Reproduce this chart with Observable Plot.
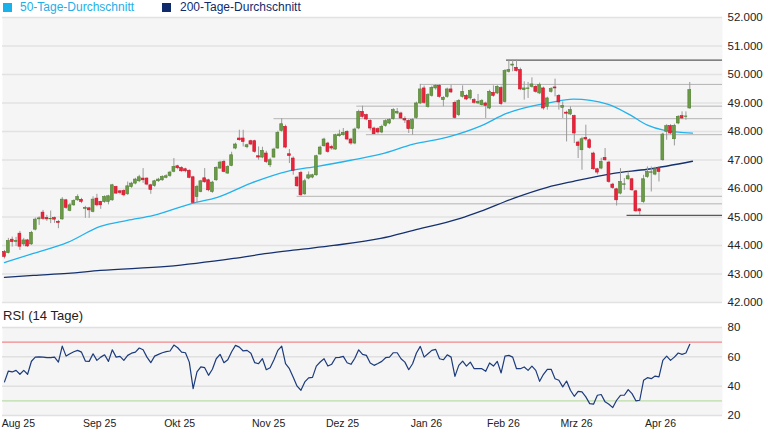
<!DOCTYPE html>
<html><head><meta charset="utf-8">
<script src="https://cdn.jsdelivr.net/npm/d3@7"></script>
<script src="https://cdn.jsdelivr.net/npm/@observablehq/plot@0.6"></script>
<style>
body{margin:0;background:#fff;font-family:'Liberation Sans',Arial,sans-serif;}
#wrap{position:relative;width:765px;height:430px;overflow:hidden;background:#fff;}
#main{position:absolute;left:0;top:0;}
#rsi{position:absolute;left:0;top:318px;}
.lg{position:absolute;top:0;font-size:12px;line-height:14px;white-space:nowrap;}
.sq{position:absolute;top:3px;width:9px;height:9px;}
#rsiTitle{position:absolute;left:3px;top:308px;font-size:13px;color:#222;line-height:16px;}
</style></head><body>
<div id="wrap">
  <div id="main"></div>
  <div id="rsi"></div>
  <div class="sq" style="left:3px;background:#1ab0ea"></div>
  <div class="lg" style="left:20px;color:#23aee6">50-Tage-Durchschnitt</div>
  <div class="sq" style="left:162px;background:#0f2b6b"></div>
  <div class="lg" style="left:180px;color:#0f2b6b">200-Tage-Durchschnitt</div>
  <div id="rsiTitle">RSI (14 Tage)</div>
</div>
<script>
const opens=[43768,43733,44204,44126,44415,44038,44179,44038,44555,44917,45153,44963,44917,44963,44829,44917,45585,45216,45409,45585,45603,45286,45304,45181,45645,45532,45525,45532,45585,46052,45901,45912,45796,46052,46172,46253,46348,46348,46112,46088,46253,46288,46376,46439,46587,46780,46720,46675,46622,46393,45701,45877,46358,46288,45877,46288,46699,46931,46524,46791,47402,47754,47754,47448,47659,47659,47132,47086,47227,46815,47086,47402,48021,48161,47202,47051,46383,46545,45796,46348,46383,46464,47191,47483,47578,47458,47367,47835,47870,47986,47719,47578,48105,48689,48573,48372,48105,48081,47965,48197,48281,48432,48633,48633,48432,48372,48081,48478,48984,49511,48865,49251,49511,49603,49100,49216,49476,49005,48573,49216,49251,49160,49100,48984,48924,48984,48808,49357,49335,49522,49040,50095,50313,50235,50154,49451,49494,49567,49567,49335,49511,48865,49392,49546,49251,48829,48661,48597,48538,47613,47342,47775,47694,47227,46675,46699,47072,46910,46137,45972,45821,46130,46323,46323,45901,45269,45525,46404,46552,46488,46720,46991,47986,48186,47729,48281,48538,48513,48808];
const highs=[43827,44249,44295,44284,44495,44249,44214,44495,44963,45005,45233,45058,45209,44998,44882,45680,45620,45480,45603,45778,45655,45374,45339,45708,45796,45550,45743,45761,46147,46077,45936,45954,46228,46218,46358,46464,46699,46376,46147,46288,46358,46446,46481,46604,47051,46815,46763,46710,46657,46429,46112,46288,46699,46323,46253,46763,46956,46991,46798,47272,47589,48045,48045,47553,47694,47694,47458,47448,47307,47061,47413,48010,48450,48221,47367,47107,46429,46604,46323,46580,46499,47167,47483,47764,47624,47518,47905,48045,48105,48028,47764,48116,48748,48889,48608,48415,48151,48133,48221,48415,48450,48801,48808,48678,48513,48415,48450,49030,49652,49592,49328,49592,49645,49645,49223,49522,49627,49065,49118,49603,49293,49469,49153,49300,49118,49030,49451,49603,49610,49592,50172,50506,50506,50506,50225,49743,49722,49884,49610,49698,49557,49205,49539,49838,49293,49040,48713,48865,48573,47659,47799,48221,47747,47272,46710,47061,47402,46956,46183,46007,46699,46348,46580,46358,45936,45304,46464,46755,46755,46745,46763,47940,48239,48239,48256,48555,48689,48689,49722];
const lows=[43529,43704,43943,43968,43827,43968,43933,44003,44513,44706,44882,44847,44766,44777,44590,44882,45269,45181,45374,45550,45469,44952,44952,45146,45357,45269,45480,45427,45550,45796,45778,45708,45761,46007,46130,46207,46183,46095,45796,46042,46218,46253,46341,46393,46552,46657,46569,46552,46341,45462,45469,45849,46183,45884,45831,46253,46675,46552,46499,46763,47360,47659,47458,47395,47501,47237,46991,47044,46875,46734,47061,47378,47975,47395,46875,46464,46042,45726,45761,46306,46341,46429,47167,47448,47237,47342,47342,47799,47835,47676,47518,47536,48063,48467,48379,48021,47888,47905,47922,48151,48239,48397,48590,48415,48281,47930,47870,48432,48942,48959,48819,49205,49451,49170,48865,49170,49328,48432,48520,49170,49082,49100,48959,48942,48889,48457,48766,49205,49293,48907,48995,50049,50095,50084,49434,49100,49160,49522,49346,49293,48748,48748,49346,49216,48748,48457,47634,48555,47578,47051,46640,47659,47378,46640,46481,46657,46956,46183,45972,45385,45778,45936,46288,45901,45163,45058,45480,46358,45877,46446,46228,46956,47694,47887,47494,48239,48415,48397,48784];
const closes=[43599,44154,44119,44161,43958,44179,43968,44443,44907,44952,44935,44917,44935,44907,44794,45610,45321,45409,45560,45701,45532,45321,45233,45610,45409,45409,45701,45726,46112,45821,45842,45761,46077,46172,46313,46393,46288,46137,45954,46253,46313,46404,46429,46559,46755,46710,46604,46604,46376,45497,46052,46253,46218,45936,46207,46720,46910,46580,46755,47167,47543,47694,47634,47518,47543,47283,47086,47318,46931,46991,47367,47951,48256,47437,47142,46615,46077,45761,46253,46464,46464,47132,47437,47719,47283,47402,47870,47894,47951,47719,47578,48070,48689,48513,48422,48105,47905,47965,48161,48362,48397,48748,48689,48457,48386,48081,48397,48984,49476,49005,49276,49532,49603,49216,49181,49476,49371,48478,49065,49392,49125,49416,49005,49040,49065,48900,49392,49251,49567,48959,50119,50154,50348,50119,49476,49511,49511,49652,49392,49627,48808,49160,49487,49511,49019,48900,48625,48748,47930,47494,47729,47719,47423,46675,46559,46931,46991,46228,46017,45585,46228,46147,46429,45936,45198,45198,46323,46580,46569,46675,46580,47894,48186,47930,48197,48513,48457,48527,49451];

const ma50Idx=[0,7.5,16.4,24.9,31.9,38.7,48.8,55.3,63.9,73.5,81.3,89.9,97.7,106.2,115.1,123.6,130.6,134.8,141,147.8,156.6,162.6,167,171.2,178.7];
const ma50Val=[43400,43722,44109,44671,44882,45058,45480,45691,46183,46604,46780,46991,47202,47554,47800,48186,48643,48819,48995,49135,48960,48573,48221,48046,47940];
const ma200Idx=[0,7.5,16.4,24.9,42.3,59.5,68.3,76.9,85.5,97.7,106.2,118.4,123.6,132.2,141,147.8,158.2,167,178.7];
const ma200Val=[42879,42949,43019,43125,43265,43546,43722,43863,44003,44249,44531,44952,45198,45655,46042,46253,46534,46675,46956];

const rsiVals=[42.9,50.3,49.7,50.8,48.1,50.8,48.1,57,59.8,60,
59.8,59.4,59.4,59.8,56.4,67.3,60.5,62.1,63.5,64.4,
63.2,57.1,56.9,62.1,57.6,59.8,61.4,56.9,64.8,59.8,
60.3,57.6,61.0,62.5,63.2,66.0,64.8,59.8,56.0,60.5,
61.7,62.8,63.5,64.0,68.0,66.2,63.2,62.8,56.4,38.3,
49.7,53.1,52.6,47.4,51.5,58.7,61.7,56.0,58.0,63.5,
67.8,66.6,64.0,64.4,62.5,56.0,55.3,58.7,51.2,52.6,
58.0,64.4,67.3,55.3,51.9,46.0,40.0,37.2,42.9,45.6,
46.0,53.7,56.5,58.7,53.7,55.0,59.4,59.6,60.3,56.0,
54.9,59.0,64.8,61.7,61.0,55.8,54.2,55.5,
56.9,59.4,59.8,62.8,62.8,58.7,56.4,51.2,55.3,62.6,
67.1,59.8,62.1,64.4,65.1,58.7,58.0,61.4,59.8,46.7,
54.2,57.1,53.7,56.4,51.9,51.9,51.9,50.1,55.8,53.7,
56.9,49.0,60.5,61.0,59.8,51.9,51.9,53.1,50.8,53.7,
50.8,43.3,48.1,51.5,51.5,45.1,44.0,39.5,43.5,37.2,
33.1,36.5,36.1,32.7,28.1,27.7,33.8,34.3,29.3,27.7,
25.4,30.4,33.8,33.8,37.7,34.9,30.0,30.4,44.0,45.8,
45.1,46.9,46.3,57.6,60.5,57.6,59.8,62.6,61.7,62.6,68.5];

const monthLabels=["Aug 25","Sep 25","Okt 25","Nov 25","Dez 25","Jan 26","Feb 26","Mrz 26","Apr 26"];
const monthIdx=[3.6,24.7,45.5,68.6,87.8,109.6,129.6,148.6,170.4];

const levelPrice=[50506,49652,48889,48450,47888,45726,45462,45058];
const levelStart=[130.4,108,91.5,70,94,76,48.7,161.7];
const levelDark=[true,false,false,false,false,false,false,true];

const priceTicks=[42000,43000,44000,45000,46000,47000,48000,49000,50000,51000,52000];
const rsiTicks=[20,40,60,80];
const rsiUpper=70, rsiLower=30;

const xDomain=[-0.52,186.5];
const fmtDE=d=>d3.format(",")(d).replace(/,/g,".");

const candles=opens.map((o,i)=>({i,o,h:highs[i],l:lows[i],c:closes[i]}));
const levels=levelPrice.map((p,k)=>({p,s:levelStart[k],e:xDomain[1],dark:levelDark[k]}));
const ma50=ma50Idx.map((x,k)=>({x,y:ma50Val[k]}));
const ma200=ma200Idx.map((x,k)=>({x,y:ma200Val[k]}));
const rsi=rsiVals.map((v,i)=>({i,v}));

const GREEN="#6b9b47", GREEN_S="#507f33", RED="#ec2339", RED_S="#c9162c";
const baseStyle={fontFamily:"'Liberation Sans',Arial,sans-serif",fontSize:"12px",color:"#222",background:"transparent",overflow:"visible"};

const main=Plot.plot({
  width:765,height:310,
  marginTop:17,marginBottom:8,marginLeft:2,marginRight:43,
  style:baseStyle,
  x:{domain:xDomain,axis:null},
  y:{domain:[42000,52000]},
  marks:[
    Plot.frame({fill:"#f5f5f5",stroke:"none"}),
    Plot.ruleY(priceTicks,{stroke:"#e2e2e2",strokeWidth:1.5}),
    Plot.ruleY(levels.filter(d=>!d.dark),{y:"p",x1:"s",x2:"e",stroke:"#b4b4b4",strokeWidth:1}),
    Plot.ruleY(levels.filter(d=>d.dark),{y:"p",x1:"s",x2:"e",stroke:"#5a5a5a",strokeWidth:1.3}),
    Plot.line(ma200,{x:"x",y:"y",stroke:"#14306e",strokeWidth:1.3,curve:"monotone-x"}),
    Plot.line(ma50,{x:"x",y:"y",stroke:"#22b2ee",strokeWidth:1.3,curve:"monotone-x"}),
    Plot.ruleX(candles,{x:"i",y1:"l",y2:"h",stroke:"#9a9a9a",strokeWidth:1}),
    Plot.rect(candles,{x1:d=>d.i-0.37,x2:d=>d.i+0.37,y1:"o",y2:"c",
      fill:d=>d.c>=d.o?GREEN:RED,stroke:d=>d.c>=d.o?GREEN_S:RED_S,strokeWidth:0.6}),
    Plot.axisY({anchor:"right",ticks:priceTicks,tickFormat:fmtDE,tickSize:0,tickPadding:5,fontSize:11.5,label:null})
  ]
});
document.getElementById("main").appendChild(main);

const rsiPlot=Plot.plot({
  width:765,height:112,
  marginTop:9,marginBottom:15,marginLeft:2,marginRight:43,
  style:baseStyle,
  x:{domain:xDomain,label:null},
  y:{domain:[20,80],label:null},
  marks:[
    Plot.frame({fill:"#f5f5f5",stroke:"none"}),
    Plot.ruleY(rsiTicks,{stroke:"#e0e0e0",strokeWidth:1.5}),
    Plot.ruleY([rsiUpper],{stroke:"#f2878b",strokeWidth:1.3}),
    Plot.ruleY([rsiLower],{stroke:"#bddca6",strokeWidth:1.3}),
    Plot.line(rsi,{x:"i",y:"v",stroke:"#1c3b7c",strokeWidth:1.2}),
    Plot.axisY({anchor:"right",ticks:rsiTicks,tickSize:0,tickPadding:5,fontSize:11.5,label:null}),
    Plot.axisX({anchor:"bottom",ticks:monthIdx,tickFormat:d=>monthLabels[monthIdx.indexOf(d)],tickSize:0,tickPadding:4,fontSize:10.5,label:null})
  ]
});
document.getElementById("rsi").appendChild(rsiPlot);
</script>
</body></html>
